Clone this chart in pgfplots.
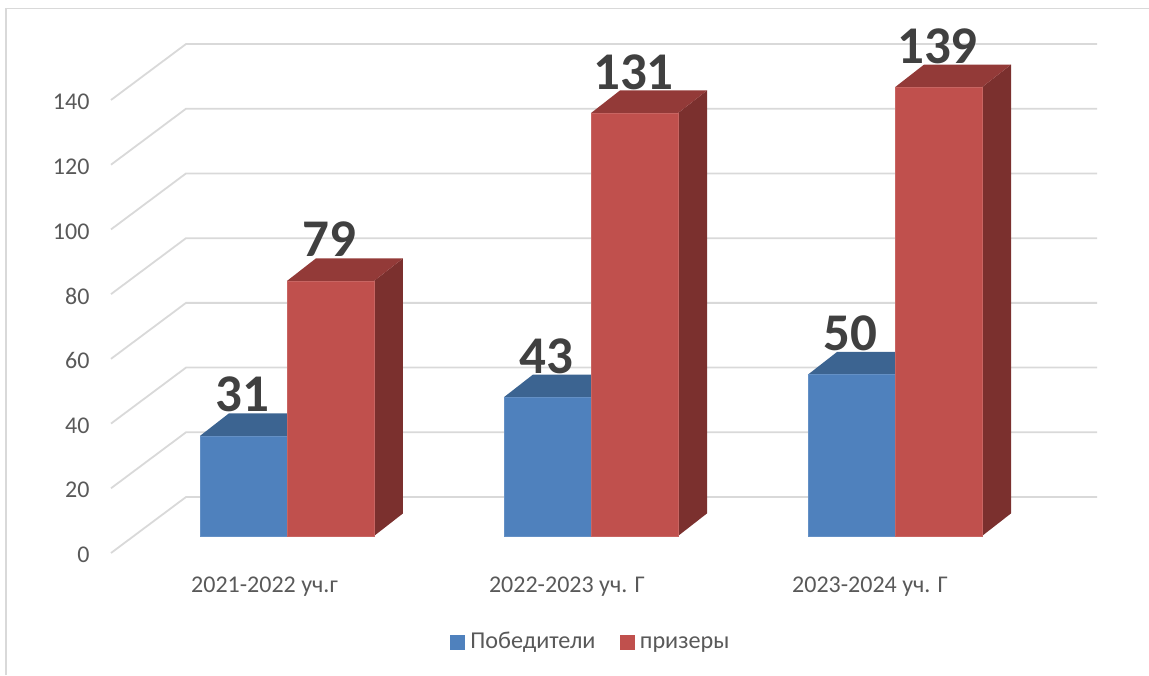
\documentclass[border=0pt]{standalone}
\usepackage{pgfplots}
\pgfplotsset{compat=1.18}
\usepackage{fontspec}
\setmainfont{Carlito}

\definecolor{wallgrey}{HTML}{D9D9D9}
\definecolor{ticktext}{HTML}{595959}
\definecolor{labeltext}{HTML}{404040}
\definecolor{blueF}{HTML}{4F81BD}
\definecolor{blueT}{HTML}{3C6491}
\definecolor{redF}{HTML}{C0504D}
\definecolor{redT}{HTML}{933A38}
\definecolor{redS}{HTML}{7B302E}

% one 3D bar: {category}{0 left / 1 right}{value}{front}{top}{side}
\newcommand{\prism}[6]{%
  \pgfmathsetmacro{\xa}{#1-0.2862+#2*0.2862}%
  \pgfmathsetmacro{\xb}{\xa+0.2862}%
  \pgfmathsetmacro{\xc}{\xa+0.0954}%
  \pgfmathsetmacro{\xd}{\xb+0.0954}%
  \pgfmathsetmacro{\vd}{#3+7}%
  \addplot[fill=#6,draw=none,forget plot] coordinates {(\xb,0) (\xd,7) (\xd,\vd) (\xb,#3)} --cycle;
  \addplot[fill=#5,draw=none,forget plot] coordinates {(\xa,#3) (\xc,\vd) (\xd,\vd) (\xb,#3)} --cycle;
  \addplot[fill=#4,draw=#4!88!white,line width=0.4pt,forget plot] coordinates {(\xa,0) (\xa,#3) (\xb,#3) (\xb,0)} --cycle;
}

\begin{document}
\begin{tikzpicture}[x=1pt,y=1pt]
\useasboundingbox (0,0) rectangle (1149,675);
\draw[wallgrey,line width=1.8pt] (6,0) -- (6,666.5) -- (1149,666.5);

% back walls and value axis
\begin{axis}[
    at={(111pt,122pt)}, anchor=south west,
    scale only axis, width=986pt, height=453pt,
    xmin=111, xmax=1097, ymin=0, ymax=140,
    clip=false,
    axis line style={draw=none},
    xtick=\empty,
    ytick={0,20,...,140},
    major tick length=0pt,
    /pgf/number format/assume math mode=true,
    yticklabel style={font=\fontsize{24}{26}\selectfont,text=ticktext,xshift=-18pt,yshift=-2pt},
    ]
\pgfplotsinvokeforeach{0,20,...,140}{
  \addplot[wallgrey,line width=1.8pt] coordinates {(111,#1) (186,#1+17.3) (1097,#1+17.3)};
}
\end{axis}

% bars
\begin{axis}[
    at={(110pt,139pt)}, anchor=south west,
    scale only axis, width=987pt, height=452pt,
    xmin=-0.5822, xmax=2.6645, ymin=0, ymax=140,
    clip=false,
    axis line style={draw=none},
    ytick=\empty,
    xtick={-0.074,0.921,1.918},
    xticklabels={2021-2022 уч.г,2022-2023 уч. Г,2023-2024 уч. Г},
    major tick length=0pt,
    xticklabel style={font=\fontsize{24}{26}\selectfont,text=ticktext,yshift=-37pt},
    legend columns=2,
    legend style={draw=none,fill=none,at={(0.487,-0.236)},anchor=center,
      font=\fontsize{24.2}{26}\selectfont,text=ticktext,
      nodes={text height=16pt,text depth=5pt},
      /tikz/every odd column/.append style={column sep=4pt},
      /tikz/every even column/.append style={column sep=22pt}},
    legend image code/.code={\fill[#1] (0pt,-7pt) rectangle (14pt,7pt);},
    ]
\prism{0}{0}{31}{blueF}{blueT}{blueT}
\prism{0}{1}{79}{redF}{redT}{redS}
\prism{1}{0}{43}{blueF}{blueT}{blueT}
\prism{1}{1}{131}{redF}{redT}{redS}
\prism{2}{0}{50}{blueF}{blueT}{blueT}
\prism{2}{1}{139}{redF}{redT}{redS}

% data labels
\addplot[draw=none,forget plot,point meta=explicit symbolic,
    nodes near coords,
    every node near coord/.append style={anchor=base,inner sep=0pt,yshift=24pt,xshift=-1pt,
      font=\fontsize{53}{58}\bfseries\selectfont,text=labeltext}]
  coordinates {(-0.143,31)[31] (0.143,79)[79] (0.857,43)[43] (1.143,131)[131] (1.857,50)[50] (2.143,139)[139]};

\addlegendimage{blueF}
\addlegendentry{Победители}
\addlegendimage{redF}
\addlegendentry{призеры}
\end{axis}
\end{tikzpicture}
\end{document}
